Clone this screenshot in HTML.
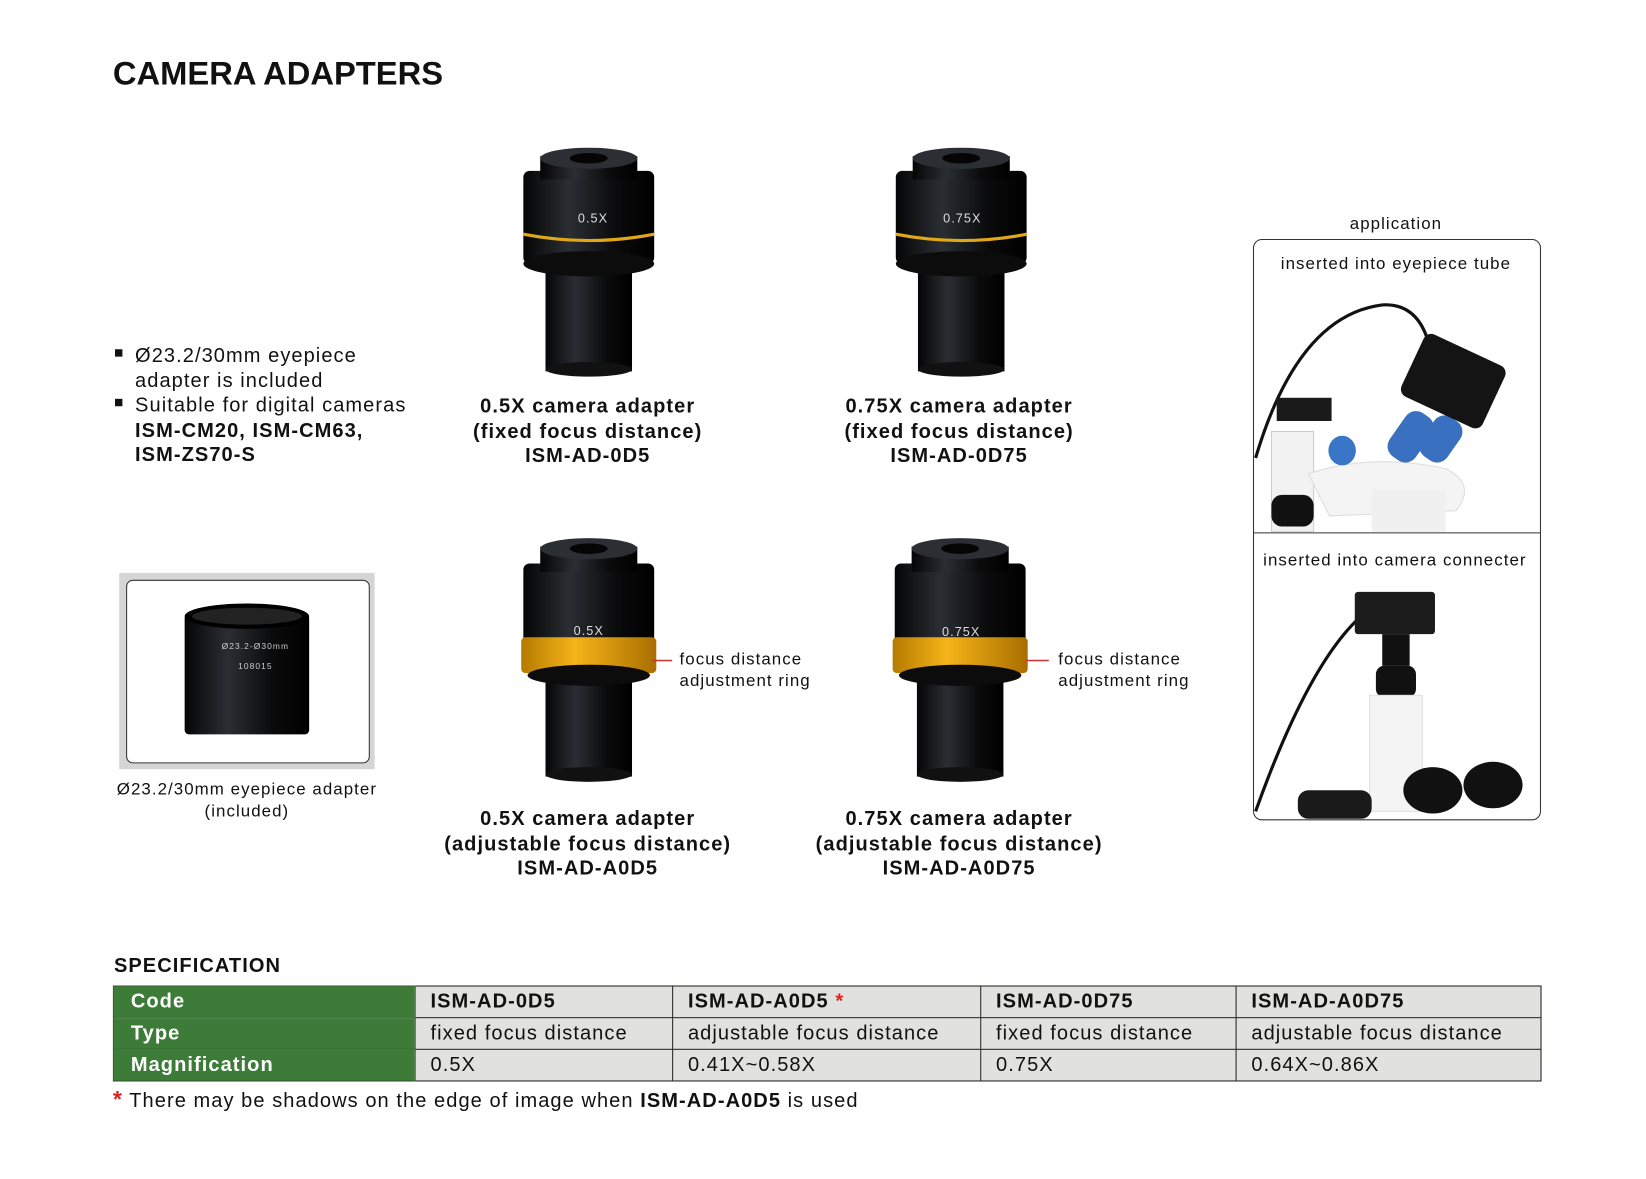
<!DOCTYPE html>
<html><head><meta charset="utf-8"><style>
html,body{margin:0;padding:0;background:#fff;width:1646px;height:1178px;overflow:hidden}
#w{position:absolute;left:0;top:0;width:1560px;height:1117px;transform:scale(1.05513);transform-origin:0 0;font-family:"Liberation Sans",Arial,sans-serif;color:#111;letter-spacing:1px}
.a{position:absolute;white-space:nowrap}
.b{font-weight:bold}
.c{text-align:center;transform:translateX(-50%)}
table{position:absolute;left:107px;top:934px;border-collapse:collapse;font-size:19px;table-layout:fixed;width:1353px}
td{border:1px solid #222;height:29px;padding:0 0 0 14px;background:#e1e1df;vertical-align:middle;white-space:nowrap;overflow:hidden}
td.g{background:#3d7b38;color:#fff;font-weight:bold;padding-left:16px;border-color:#2c5a28}
</style></head><body><div id="w">
<div class="a b" style="left:107px;top:52px;font-size:31px;letter-spacing:0">CAMERA ADAPTERS</div>

<svg class="a" style="left:0;top:0" width="1560" height="1117">
<defs>
<linearGradient id="bk" x1="0" x2="1"><stop offset="0" stop-color="#050505"/><stop offset=".35" stop-color="#2a2e33"/><stop offset=".7" stop-color="#0b0b0c"/><stop offset="1" stop-color="#000"/></linearGradient>
<linearGradient id="gd" x1="0" x2="1"><stop offset="0" stop-color="#b57a00"/><stop offset=".4" stop-color="#f5b419"/><stop offset="1" stop-color="#a86e00"/></linearGradient>
<g id="fx">
<rect x="-41" y="100" width="82" height="112" fill="url(#bk)"/>
<ellipse cx="0" cy="210" rx="41" ry="7" fill="#111"/>
<rect x="-62" y="22" width="124" height="88" rx="6" fill="url(#bk)"/>
<ellipse cx="0" cy="110" rx="62" ry="12" fill="#0c0c0c"/>
<path d="M-62 82 Q0 94 62 82" stroke="#e0a818" stroke-width="3" fill="none"/>
<rect x="-46" y="8" width="92" height="22" fill="url(#bk)"/>
<ellipse cx="0" cy="10" rx="46" ry="10" fill="#2b2f34"/>
<ellipse cx="0" cy="10" rx="18" ry="5" fill="#050505"/>
</g>
<g id="ad">
<rect x="-41" y="130" width="82" height="94" fill="url(#bk)"/>
<ellipse cx="0" cy="222" rx="41" ry="7" fill="#111"/>
<rect x="-62" y="22" width="124" height="92" rx="6" fill="url(#bk)"/>
<rect x="-64" y="92" width="128" height="34" rx="4" fill="url(#gd)"/>
<ellipse cx="0" cy="128" rx="58" ry="10" fill="#0c0c0c"/>
<rect x="-46" y="6" width="92" height="24" fill="url(#bk)"/>
<ellipse cx="0" cy="8" rx="46" ry="10" fill="#2b2f34"/>
<ellipse cx="0" cy="8" rx="18" ry="5" fill="#050505"/>
</g>
</defs>
<use href="#fx" x="558" y="140"/>
<use href="#fx" x="911" y="140"/>
<use href="#ad" x="558" y="512"/>
<use href="#ad" x="910" y="512"/>
<text x="562" y="211" fill="#ddd" font-size="12" text-anchor="middle" font-family="Liberation Sans">0.5X</text>
<text x="912" y="211" fill="#ddd" font-size="12" text-anchor="middle" font-family="Liberation Sans">0.75X</text>
<text x="558" y="602" fill="#ddd" font-size="12" text-anchor="middle" font-family="Liberation Sans">0.5X</text>
<text x="911" y="603" fill="#ddd" font-size="12" text-anchor="middle" font-family="Liberation Sans">0.75X</text>
<line x1="618" y1="626" x2="637" y2="626" stroke="#c33" stroke-width="1.5"/>
<line x1="972" y1="626" x2="994" y2="626" stroke="#c33" stroke-width="1.5"/>
<rect x="113" y="543" width="242" height="186" fill="#d5d5d5"/>
<rect x="120" y="550" width="230" height="173" rx="6" fill="#fff" stroke="#333"/>
<rect x="175" y="582" width="118" height="114" rx="4" fill="url(#bk)"/>
<ellipse cx="234" cy="584" rx="59" ry="12" fill="#000"/>
<ellipse cx="234" cy="584" rx="52" ry="8" fill="#222"/>
<text x="242" y="615" fill="#ccc" font-size="8" text-anchor="middle" font-family="Liberation Sans">Ø23.2-Ø30mm</text>
<text x="242" y="634" fill="#ccc" font-size="8" text-anchor="middle" font-family="Liberation Sans">108015</text>
<rect x="109" y="331" width="7" height="7" fill="#111"/>
<rect x="109" y="378" width="7" height="7" fill="#111"/>
<g transform="translate(-6,-1)">
<rect x="1194" y="228" width="272" height="550" rx="8" fill="#fff" stroke="#333"/>
<line x1="1194" y1="506" x2="1466" y2="506" stroke="#333"/>
<path d="M1196 435 Q1236 300 1316 290 Q1351 288 1361 330" stroke="#111" stroke-width="3" fill="none"/>
<rect x="1211" y="410" width="40" height="95" fill="#f2f2f2" stroke="#ccc"/>
<rect x="1216" y="378" width="52" height="22" fill="#1a1a1a"/>
<path d="M1246 450 Q1306 430 1376 445 Q1406 460 1386 485 L1266 490 Z" fill="#f4f4f4" stroke="#ddd"/>
<rect x="1306" y="465" width="70" height="40" fill="#f0f0f0"/>
<rect x="1211" y="470" width="40" height="30" rx="10" fill="#111"/>
<ellipse cx="1278" cy="428" rx="13" ry="14" fill="#3a76c8"/>
<rect x="1328" y="390" width="30" height="50" rx="12" fill="#3a70c0" transform="rotate(35 1343 415)"/>
<rect x="1358" y="395" width="30" height="45" rx="12" fill="#3a70c0" transform="rotate(35 1373 415)"/>
<rect x="1341" y="330" width="85" height="65" rx="8" fill="#141414" transform="rotate(25 1384 362)"/>
<path d="M1196 770 Q1246 630 1296 585" stroke="#111" stroke-width="3" fill="none"/>
<rect x="1290" y="562" width="76" height="40" rx="3" fill="#1c1c1c"/>
<rect x="1316" y="602" width="26" height="30" fill="#111"/>
<rect x="1310" y="632" width="38" height="30" rx="8" fill="#111"/>
<rect x="1304" y="660" width="50" height="110" fill="#f4f4f4" stroke="#e0e0e0"/>
<rect x="1236" y="750" width="70" height="27" rx="10" fill="#1a1a1a"/>
<ellipse cx="1364" cy="750" rx="28" ry="22" fill="#111"/>
<ellipse cx="1421" cy="745" rx="28" ry="22" fill="#111"/>
</g>
</svg>

<div class="a" style="left:128px;top:326px;font-size:19px;line-height:23.5px">Ø23.2/30mm eyepiece<br>adapter is included<br>Suitable for digital cameras<br><b>ISM-CM20, ISM-CM63,<br>ISM-ZS70-S</b></div>

<div class="a b c" style="left:557px;top:374px;font-size:19px;line-height:23.5px;text-align:center">0.5X camera adapter<br>(fixed focus distance)<br>ISM-AD-0D5</div>
<div class="a b c" style="left:909px;top:374px;font-size:19px;line-height:23.5px;text-align:center">0.75X camera adapter<br>(fixed focus distance)<br>ISM-AD-0D75</div>
<div class="a b c" style="left:557px;top:765px;font-size:19px;line-height:23.5px;text-align:center">0.5X camera adapter<br>(adjustable focus distance)<br>ISM-AD-A0D5</div>
<div class="a b c" style="left:909px;top:765px;font-size:19px;line-height:23.5px;text-align:center">0.75X camera adapter<br>(adjustable focus distance)<br>ISM-AD-A0D75</div>

<div class="a" style="left:644px;top:616px;font-size:16px;line-height:20px">focus distance<br>adjustment ring</div>
<div class="a" style="left:1003px;top:616px;font-size:16px;line-height:20px">focus distance<br>adjustment ring</div>

<div class="a c" style="left:234px;top:738px;font-size:16px;line-height:21px;text-align:center">Ø23.2/30mm eyepiece adapter<br>(included)</div>

<div class="a c" style="left:1323px;top:204px;font-size:16px">application</div>
<div class="a c" style="left:1323px;top:242px;font-size:16px">inserted into eyepiece tube</div>
<div class="a c" style="left:1322px;top:523px;font-size:16px">inserted into camera connecter</div>

<div class="a b" style="left:108px;top:905px;font-size:19px">SPECIFICATION</div>
<table>
<colgroup><col style="width:286px"><col style="width:244px"><col style="width:292px"><col style="width:242px"><col style="width:289px"></colgroup>
<tr><td class="g">Code</td><td class="b">ISM-AD-0D5</td><td class="b">ISM-AD-A0D5 <span style="color:#d22">*</span></td><td class="b">ISM-AD-0D75</td><td class="b">ISM-AD-A0D75</td></tr>
<tr><td class="g">Type</td><td>fixed focus distance</td><td>adjustable focus distance</td><td>fixed focus distance</td><td>adjustable focus distance</td></tr>
<tr><td class="g">Magnification</td><td>0.5X</td><td>0.41X~0.58X</td><td>0.75X</td><td>0.64X~0.86X</td></tr>
</table>
<div class="a" style="left:107px;top:1029px;font-size:19px"><span style="color:#d22;font-weight:bold;font-size:22px">*</span> There may be shadows on the edge of image when <b>ISM-AD-A0D5</b> is used</div>
</div></body></html>
